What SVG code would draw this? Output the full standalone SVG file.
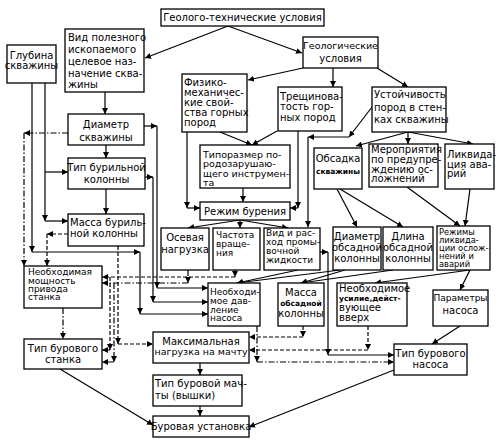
<svg xmlns="http://www.w3.org/2000/svg" width="500" height="444" viewBox="0 0 500 444">
<style>
.b{fill:#fff;stroke:#000;stroke-width:1.3}
text{font-family:"DejaVu Sans","Noto Sans",sans-serif;font-size:10px;fill:#000}
.m{text-anchor:middle}
.s{font-size:7.5px;font-weight:bold}
.n9{font-size:9px}
.n85{font-size:8.3px}
.n95{font-size:9.5px}
#connectors path{fill:none;stroke:#000;stroke-width:1.2;marker-end:url(#a)}
#connectors .d path{stroke-dasharray:4 2}
#connectors .dd path{stroke-dasharray:6 2 1.5 2}
</style>
<defs>
<marker id="a" viewBox="0 0 6 6" refX="6" refY="3" markerWidth="6" markerHeight="6" markerUnits="userSpaceOnUse" orient="auto"><path d="M0,0L6,3L0,6z" fill="#000"/></marker>
</defs>
<rect width="500" height="444" fill="#fff"/>
<g id="connectors">
<g class="sol">
<path d="M228,26L145,58"/>
<path d="M228,26L302,53"/>
<path d="M303,68L248,80"/>
<path d="M333,68L333,87"/>
<path d="M377,68L408,87"/>
<path d="M372,107L349,137"/>
<path d="M349,137L308,137"/>
<path d="M308,137L308,227"/>
<path d="M408,132L356,146"/>
<path d="M408,132L408,144"/>
<path d="M408,132L473,144"/>
<path d="M220,132L252,145"/>
<path d="M277,131L252,145"/>
<path d="M187,132L187,208"/>
<path d="M187,208L200,208"/>
<path d="M298,131L298,208"/>
<path d="M298,208L290,208"/>
<path d="M243,188L243,202"/>
<path d="M240,220L188,228"/>
<path d="M240,220L240,228"/>
<path d="M240,220L288,228"/>
<path d="M337,189L357,227"/>
<path d="M340,189L403,227"/>
<path d="M407,187L460,226"/>
<path d="M470,189L465,226"/>
<path d="M470,270L460,290"/>
<path d="M470,270L375,283"/>
<path d="M345,270L301,283"/>
<path d="M393,270L301,283"/>
<path d="M340,270L237,283"/>
<path d="M298,270L237,283"/>
<path d="M320,252L328,252"/>
<path d="M328,252L328,355"/>
<path d="M328,355L394,355"/>
<path d="M460,326L432,344"/>
<path d="M394,370L249,427"/>
<path d="M200,363L200,375"/>
<path d="M200,406L200,416"/>
<path d="M60,369L153,425"/>
<path d="M105,92L105,114"/>
<path d="M106,145L106,158"/>
<path d="M106,189L106,214"/>
<path d="M45,83L45,221"/>
<path d="M45,221L68,221"/>
<path d="M45,172L68,172"/>
<path d="M32,83L32,252"/>
<path d="M32,252L140,252"/>
<path d="M140,252L140,314"/>
<path d="M140,314L208,314"/>
<path d="M144,126L157,126"/>
<path d="M157,126L157,288"/>
<path d="M157,288L208,288"/>
<path d="M145,177L153,177"/>
<path d="M153,177L153,302"/>
<path d="M153,302L208,302"/>
</g>
<g class="dd">
<path d="M68,133L24,133"/>
<path d="M24,133L24,266"/>
<path d="M63,308L63,339"/>
<path d="M188,270L188,283"/>
<path d="M188,283L102,283"/>
<path d="M114,283L114,362"/>
<path d="M114,362L102,362"/>
<path d="M257,326L257,362"/>
<path d="M257,362L394,362"/>
</g>
<g class="d">
<path d="M68,234L47,234"/>
<path d="M47,234L47,266"/>
<path d="M235,270L235,277"/>
<path d="M235,277L102,277"/>
<path d="M110,277L110,350"/>
<path d="M110,350L102,350"/>
<path d="M118,246L118,344"/>
<path d="M118,344L153,344"/>
<path d="M303,326L303,337"/>
<path d="M303,337L249,337"/>
<path d="M368,326L368,350"/>
<path d="M368,350L249,350"/>
</g>
</g>
<g id="n-geotech"><rect class="b" x="161" y="9" width="163" height="17"/><text class="m" x="242.5" y="21">Геолого-технические условия</text></g>
<g id="n-depth"><rect class="b" x="7" y="45" width="49" height="38"/><text class="m" x="31.5" y="59">Глубина</text><text class="m" x="31.5" y="69">скважины</text></g>
<g id="n-mineral"><rect class="b" x="65" y="29" width="79" height="63"/><text x="68" y="41">Вид полезного</text><text x="68" y="53">ископаемого</text><text x="68" y="65">целевое наз-</text><text x="68" y="77">начение сква-</text><text x="68" y="88">жины</text></g>
<g id="n-geol"><rect class="b" x="303" y="37" width="75" height="31"/><text class="m n95" x="340.5" y="48.5">Геологические</text><text class="m" x="340.5" y="61.5">условия</text></g>
<g id="n-phys"><rect class="b" x="182" y="74" width="65" height="58"/><text x="184" y="86">Физико-</text><text x="184" y="96">механичес-</text><text x="184" y="106">кие свой-</text><text x="184" y="116">ства горных</text><text x="184" y="126">пород</text></g>
<g id="n-fract"><rect class="b" x="278" y="87" width="64" height="44"/><text x="280" y="99.5">Трещинова-</text><text x="280" y="110">тость гор-</text><text x="280" y="120.5">ных пород</text></g>
<g id="n-stab"><rect class="b" x="372" y="87" width="74" height="45"/><text x="374" y="97.5">Устойчивость</text><text x="374" y="111">пород в стен-</text><text x="374" y="122.5">ках скважины</text></g>
<g id="n-diam"><rect class="b" x="68" y="114" width="76" height="31"/><text class="m" x="106" y="127.5">Диаметр</text><text class="m" x="106" y="140.5">скважины</text></g>
<g id="n-drillpipe"><rect class="b" x="68" y="158" width="77" height="31"/><text class="m" x="106.5" y="170.5">Тип бурильной</text><text class="m" x="106.5" y="182.5">колонны</text></g>
<g id="n-pipemass"><rect class="b" x="68" y="214" width="76" height="32"/><text x="70" y="225.5">Масса буриль-</text><text x="70" y="236.5">ной колонны</text></g>
<g id="n-power"><rect class="b" x="24" y="266" width="78" height="42"/><text class="n9" x="28" y="275">Необходимая</text><text class="n9" x="28" y="283.5">мощность</text><text class="n9" x="28" y="291.5">привода</text><text class="n9" x="28" y="299.5">станка</text></g>
<g id="n-rig"><rect class="b" x="24" y="339" width="78" height="30"/><text class="m" x="63" y="351.5">Тип бурового</text><text class="m" x="63" y="362.5">станка</text></g>
<g id="n-bit"><rect class="b" x="200" y="145" width="90" height="43"/><text class="n95" x="203" y="157.5">Типоразмер по-</text><text class="n95" x="203" y="166.5">родозарушаю-</text><text class="n95" x="203" y="176.5">щего инструмен-</text><text class="n95" x="203" y="185.5">та</text></g>
<g id="n-mode"><rect class="b" x="200" y="202" width="90" height="18"/><text class="m" x="245" y="214.5">Режим бурения</text></g>
<g id="n-load"><rect class="b" x="161" y="228" width="48" height="42"/><text class="m" x="185" y="240.5">Осевая</text><text class="m" x="185" y="252.5">нагрузка</text></g>
<g id="n-rpm"><rect class="b" x="213" y="228" width="47" height="42"/><text class="n9" x="216" y="238">Частота</text><text class="n9" x="216" y="246.5">враще-</text><text class="n9" x="216" y="256">ния</text></g>
<g id="n-fluid"><rect class="b" x="264" y="228" width="56" height="42"/><text class="n9" x="266" y="235.5">Вид и рас-</text><text class="n9" x="266" y="244.5">ход промы-</text><text class="n9" x="266" y="253.5">вочной</text><text class="n9" x="266" y="262.5">жидкости</text></g>
<g id="n-casing"><rect class="b" x="314" y="148" width="48" height="41"/><text class="m" x="338" y="162">Обсадка</text><text class="m s" x="338" y="174">скважины</text></g>
<g id="n-prevent"><rect class="b" x="369" y="144" width="69" height="43"/><text x="371" y="152.5">Мероприятия</text><text x="371" y="162.5">по предупре-</text><text x="371" y="172.5">ждению ос-</text><text x="371" y="181.5">ложнений</text></g>
<g id="n-accident"><rect class="b" x="445" y="144" width="49" height="45"/><text x="447" y="157.5">Ликвида-</text><text x="447" y="167.5">ция ава-</text><text x="447" y="176.5">рий</text></g>
<g id="n-casdiam"><rect class="b" x="333" y="227" width="48" height="43"/><text class="m" x="357" y="239.5">Диаметр</text><text class="m" x="357" y="250.5">обсадной</text><text class="m" x="357" y="261.5">колонны</text></g>
<g id="n-caslen"><rect class="b" x="383" y="227" width="50" height="43"/><text class="m" x="408" y="239.5">Длина</text><text class="m" x="408" y="250.5">обсадной</text><text class="m" x="408" y="261.5">колонны</text></g>
<g id="n-modes"><rect class="b" x="437" y="226" width="53" height="44"/><text class="n85" x="439" y="234.5">Режимы</text><text class="n85" x="439" y="242.5">ликвида-</text><text class="n85" x="439" y="250.5">ции ослож-</text><text class="n85" x="439" y="258.5">нений и</text><text class="n85" x="439" y="266.5">аварий</text></g>
<g id="n-pressure"><rect class="b" x="208" y="283" width="52" height="43"/><text class="n9" x="210" y="295">Необходи-</text><text class="n9" x="210" y="304">мое дав-</text><text class="n9" x="210" y="312.5">ление</text><text class="n9" x="210" y="321">насоса</text></g>
<g id="n-casmass"><rect class="b" x="278" y="283" width="46" height="43"/><text class="m" x="301" y="295.5">Масса</text><text class="m s" x="301" y="306">обсадной</text><text class="m" x="301" y="316.5">колонны</text></g>
<g id="n-force"><rect class="b" x="337" y="283" width="70" height="43"/><text x="339" y="291.5">Необходимое</text><text class="s" x="339" y="300.5">усилие,дейст-</text><text x="339" y="310.5">вующее</text><text x="339" y="320.5">вверх</text></g>
<g id="n-pumpparam"><rect class="b" x="433" y="290" width="55" height="36"/><text class="m n9" x="460.5" y="301">Параметры</text><text class="m" x="460.5" y="313.5">насоса</text></g>
<g id="n-pump"><rect class="b" x="394" y="344" width="73" height="31"/><text class="m" x="430.5" y="356.5">Тип бурового</text><text class="m" x="430.5" y="367.5">насоса</text></g>
<g id="n-maxload"><rect class="b" x="153" y="332" width="96" height="31"/><text class="m" x="201" y="345">Максимальная</text><text class="m n95" x="201" y="355">нагрузка на мачту</text></g>
<g id="n-mast"><rect class="b" x="153" y="375" width="89" height="31"/><text x="155" y="386.5">Тип буровой мач-</text><text x="155" y="398.5">ты (вышки)</text></g>
<g id="n-unit"><rect class="b" x="153" y="416" width="96" height="21"/><text class="m" x="201" y="430">Буровая установка</text></g>
</svg>
